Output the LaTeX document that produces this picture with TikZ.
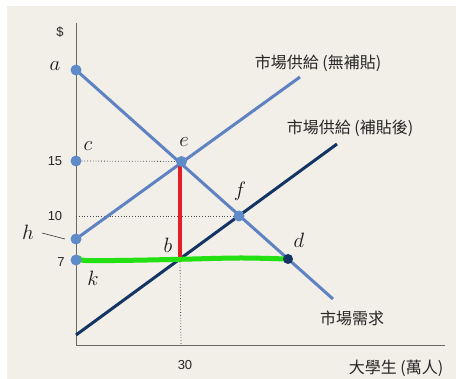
\documentclass[tikz,border=0pt]{standalone}
\usepackage{fontspec}
\setmainfont{Liberation Sans}
\newfontfamily\cjk{Noto Sans CJK TC}
\definecolor{bgbeige}{HTML}{F2EEE8}
\definecolor{lblue}{HTML}{5E82C2}
\definecolor{ptblue}{HTML}{5F8BC8}
\definecolor{navy}{HTML}{143463}
\definecolor{axgray}{HTML}{6A6662}
\definecolor{redbar}{HTML}{E41E24}
\definecolor{limegreen}{HTML}{22E012}
\begin{document}
\begin{tikzpicture}[x=1pt,y=-1pt,
  pt/.style={circle,fill=ptblue,inner sep=0pt,minimum size=11pt},
  ptdark/.style={circle,fill=navy,inner sep=0pt,minimum size=10pt},
  curve/.style={line width=3pt,lblue},
  dot/.style={dotted,line width=0.8pt,black!70},
  lett/.style={font=\fontsize{20}{20}\selectfont,text=black!90},
  num/.style={font=\fontsize{13}{13}\selectfont,text=black!85},
  lab/.style={font=\cjk\fontsize{16}{16}\selectfont,text=black!85}]
\useasboundingbox (0,0) rectangle (456,379);
\fill[white] (0,0) rectangle (456,379);
\fill[bgbeige] (7,6) rectangle (456,379);
% coordinates
\coordinate (O) at (76,346);
\coordinate (ytop) at (76,23);
\coordinate (xend) at (445,346);
\coordinate (A) at (76,70);
\coordinate (C) at (76,161);
\coordinate (E) at (181.5,161.5);
\coordinate (F) at (239,216);
\coordinate (H) at (76,239);
\coordinate (K) at (76,260);
\coordinate (B) at (180,259);
\coordinate (D) at (288,259);
\coordinate (Ten) at (76,216);
\coordinate (Thirty) at (181,346);
\coordinate (Dend) at (333,299);
\coordinate (S1end) at (300,77);
\coordinate (S2start) at (76,335);
\coordinate (S2end) at (337,144);
% axes
\draw[axgray,line width=1pt] (ytop) -- (O) -- (xend);
% dotted guides
\draw[dot] (C) -- (E);
\draw[dot] (Ten) -- (F);
\draw[dot] (B) -- (Thirty);
% curves
\draw[curve] (H) -- (S1end);
\draw[line width=3pt,navy] (S2start) -- (S2end);
\draw[curve] (A) -- (Dend);
% red bar
\draw[redbar,line width=4.5pt] (180,163) -- (180,257);
% green line
\draw[limegreen,line width=5pt,line cap=round] plot[smooth,tension=0.6] coordinates {(79,258) (86,260.5) (130,260.3) (180,259.3) (240,258) (286,259)};
% points
\node[pt] (a) at (A) {};
\node[pt] (c) at (C) {};
\node[pt] (e) at (E) {};
\node[pt] (f) at (F) {};
\node[pt] (h) at (H) {};
\node[pt] (k) at (K) {};
\node[ptdark] (d) at (D) {};
% letters
\node[lett] (la) at (55,66) {$a$};
\node[lett] (lc) at (88,146) {$c$};
\node[lett] (le) at (184,142) {$e$};
\node[lett] (lf) at (240,191) {$f$};
\node[lett] (lh) at (28,232) {$h$};
\node[lett] (lb) at (168,245) {$b$};
\node[lett] (lk) at (93,278) {$k$};
\node[lett] (ld) at (299,240) {$d$};
\coordinate (hl1) at (42,233);
\coordinate (hl2) at (65,239);
\draw[black!80,line width=0.6pt] (hl1) -- (hl2);
% numbers
\node[num] (dollar) at (60,32) {\$};
\node[num] (n15) at (55,161) {15};
\node[num] (n10) at (55,216) {10};
\node[num] (n7) at (61,262) {7};
\node[num] (n30) at (185,365) {30};
% labels
\node[lab] (s1) at (318,63) {市場供給 (無補貼)};
\node[lab] (s2) at (350,128) {市場供給 (補貼後)};
\node[lab] (dem) at (352,318) {市場需求};
\node[lab] (xl) at (396,368) {大學生 (萬人)};
\end{tikzpicture}
\end{document}
